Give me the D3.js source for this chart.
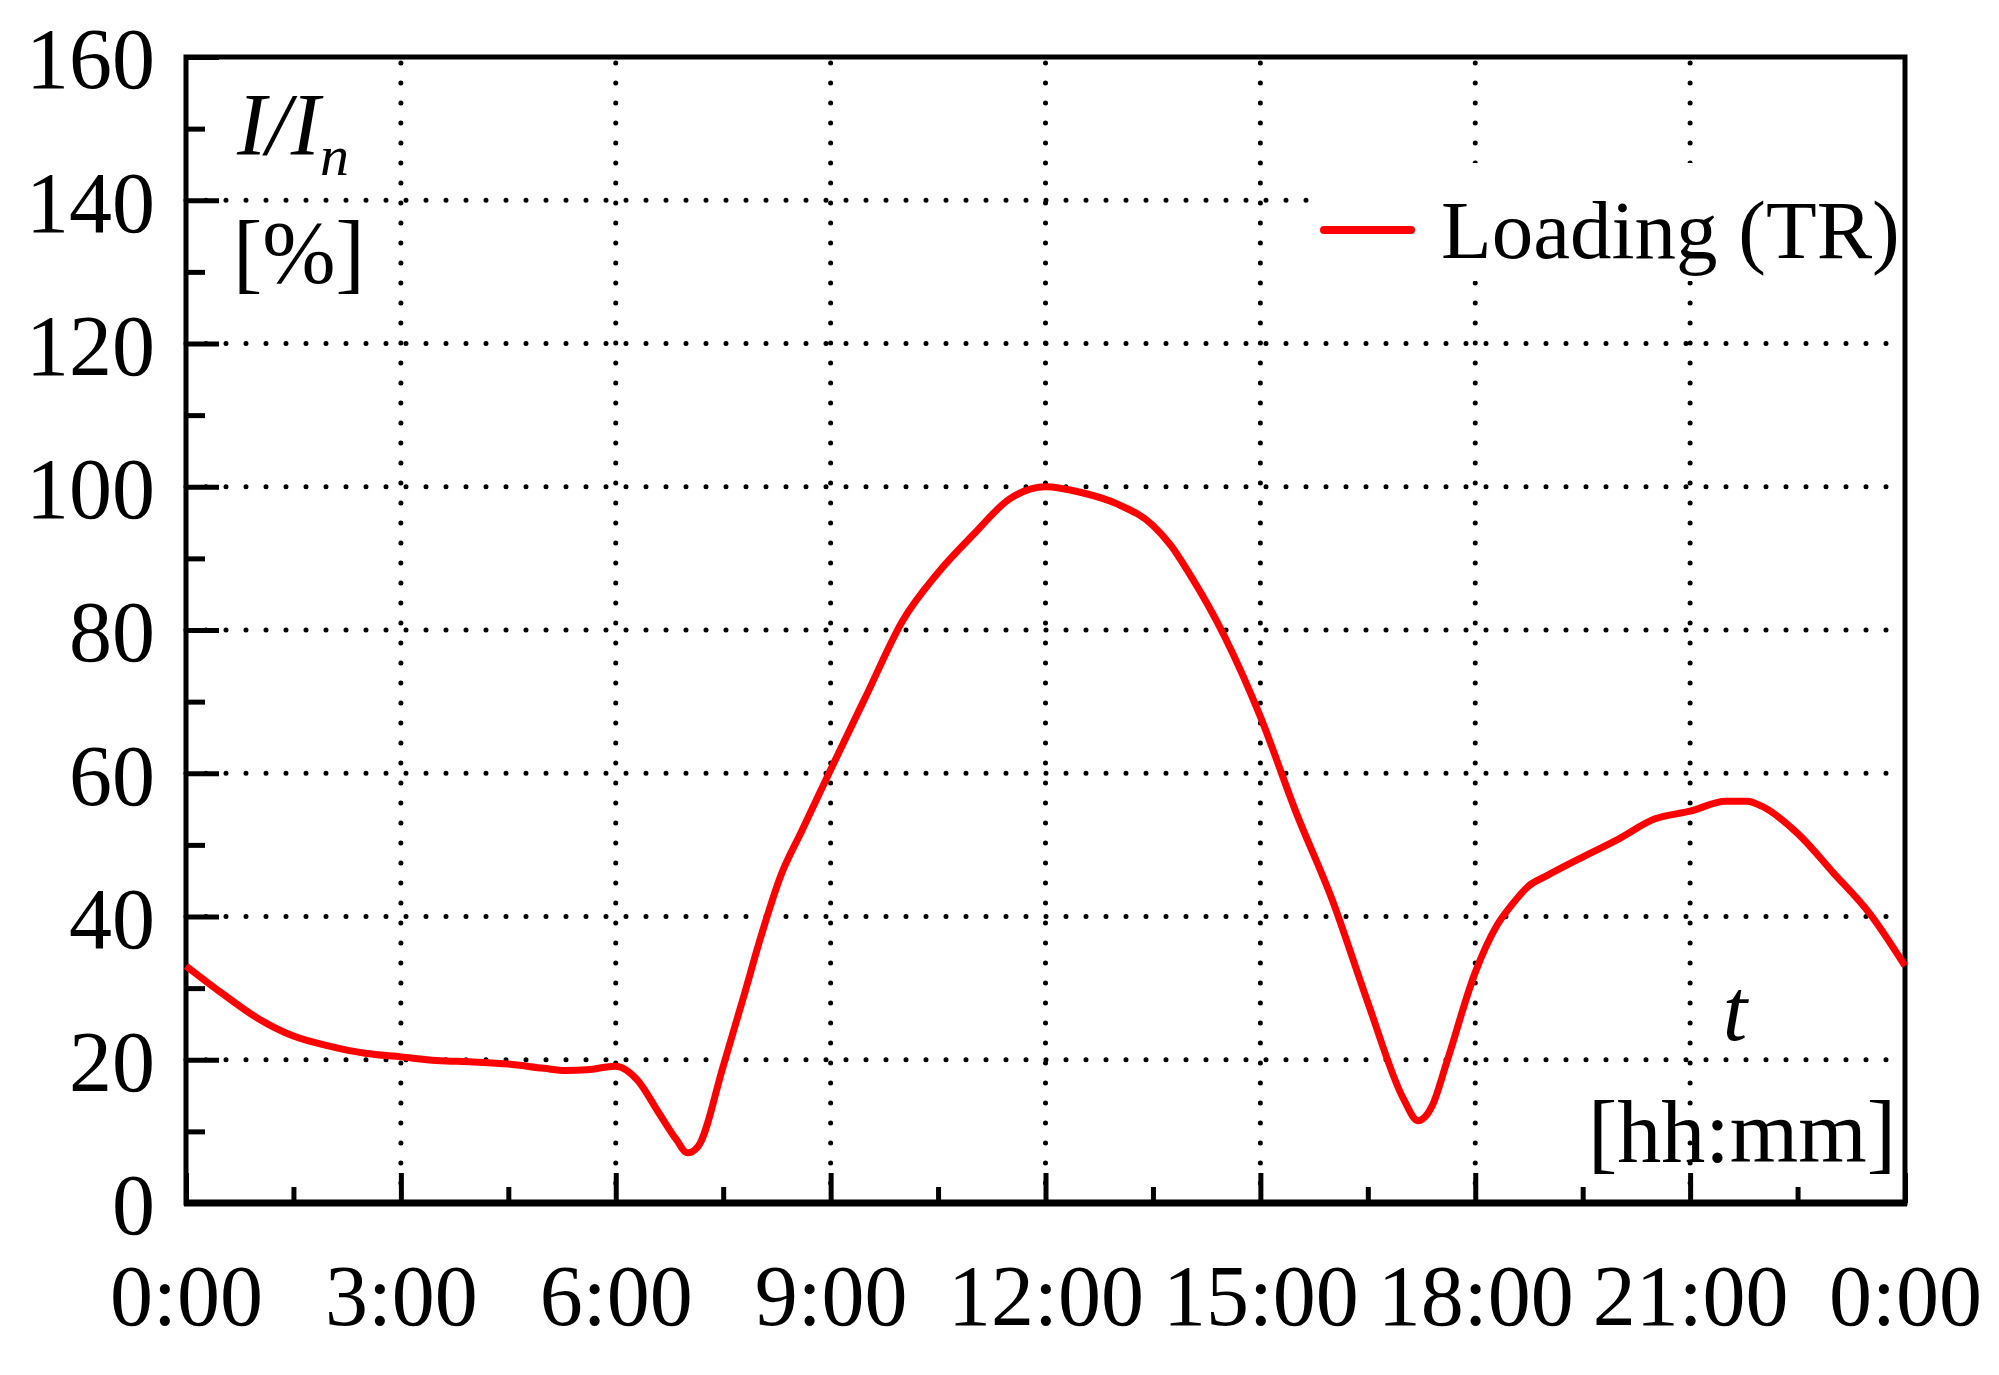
<!DOCTYPE html>
<html>
<head>
<meta charset="utf-8">
<script src="https://cdn.jsdelivr.net/npm/d3@7"></script>
<style>
  body { margin: 0; background: #fff; }
  svg text { font-family: "Palatino Linotype", "Book Antiqua", Palatino, "Liberation Serif", serif; fill: #000; }
</style>
</head>
<body>
<svg id="chart" width="1999" height="1375"></svg>
<script>
// loading curve of the transformer (hours -> % of rated current)
const hours = [0, 0.5, 1, 1.5, 2, 2.5, 3, 3.5, 4, 4.5, 5, 5.3, 5.6, 6, 6.3, 6.6, 6.85, 7, 7.15, 7.5, 7.8, 8, 8.3, 8.6,
  9, 9.5, 10, 10.5, 11, 11.5, 12, 12.5, 13, 13.5, 13.75, 14, 14.5, 15, 15.5, 16, 16.5, 17, 17.2, 17.4, 17.6,
  18, 18.3, 18.5, 18.75, 19, 19.5, 20, 20.5, 21, 21.5, 21.8, 22, 22.5, 23, 23.5, 24];
const loading = [33.1, 29.3, 25.8, 23.3, 21.9, 20.9, 20.4, 19.9, 19.7, 19.4, 18.8, 18.5, 18.6, 19.1, 17.2, 12.6, 8.8, 7.0, 7.9, 19.1, 29.3, 36.3, 45.6, 52.0,
  60.5, 70.9, 81.2, 88.0, 93.4, 98.3, 100, 99.2, 97.6, 94.6, 91.8, 88.0, 79.1, 67.9, 54.5, 42.4, 28.0, 14.5, 11.5, 13.6, 19.6,
  32.2, 38.7, 41.5, 44.3, 45.7, 48.3, 50.8, 53.6, 54.7, 56.1, 56.1, 55.4, 51.6, 46.1, 40.5, 33.1];

const xMajor = [0, 3, 6, 9, 12, 15, 18, 21, 24];
const xMinor = [1.5, 4.5, 7.5, 10.5, 13.5, 16.5, 19.5, 22.5];
const xTickLabels = ["0:00", "3:00", "6:00", "9:00", "12:00", "15:00", "18:00", "21:00", "0:00"];
const yMajor = [0, 20, 40, 60, 80, 100, 120, 140, 160];
const yMinor = [10, 30, 50, 70, 90, 110, 130, 150];
const seriesName = "Loading (TR)";

const plotLeft = 186, plotRight = 1905, plotTop = 57, plotBottom = 1203;
const fontSize = 86;

const svg = d3.select("#chart");
svg.append("rect").attr("width", 1999).attr("height", 1375).attr("fill", "#fff");

const x = d3.scaleLinear().domain([0, 24]).range([plotLeft, plotRight]);
const y = d3.scaleLinear().domain([0, 160]).range([plotBottom, plotTop]);

// dotted grid
const grid = svg.append("g").attr("stroke", "#000").attr("stroke-width", 5)
  .attr("stroke-linecap", "round").attr("stroke-dasharray", "0,20");
grid.selectAll(".gy").data(yMajor.slice(1, -1)).join("line")
  .attr("x1", plotLeft).attr("x2", plotRight).attr("y1", d => y(d)).attr("y2", d => y(d));
grid.selectAll(".gx").data(xMajor.slice(1, -1)).join("line")
  .attr("y1", plotBottom).attr("y2", plotTop).attr("x1", d => x(d)).attr("x2", d => x(d));

// legend background hides the grid behind it
svg.append("rect").attr("x", 1314).attr("y", 163).attr("width", plotRight - 1314).attr("height", 118).attr("fill", "#fff");

// axes with inward ticks
const xAx = svg.append("g").attr("transform", `translate(0,${plotBottom})`)
  .call(d3.axisBottom(x).tickValues(xMajor).tickSize(-30).tickPadding(122)
    .tickFormat((d, i) => xTickLabels[i]));
svg.append("g").attr("transform", `translate(0,${plotBottom})`)
  .call(d3.axisBottom(x).tickValues(xMinor).tickSize(-16).tickFormat(""));
const yAx = svg.append("g").attr("transform", `translate(${plotLeft},0)`)
  .call(d3.axisLeft(y).tickValues(yMajor).tickSize(-33).tickPadding(31));
svg.append("g").attr("transform", `translate(${plotLeft},0)`)
  .call(d3.axisLeft(y).tickValues(yMinor).tickSize(-19).tickFormat(""));

svg.selectAll(".domain").remove();
svg.selectAll(".tick line").attr("stroke", "#000").attr("stroke-width", 5);
xAx.selectAll("text").attr("font-size", fontSize).attr("dy", "0").attr("fill", "#000");
yAx.selectAll("text").attr("font-size", fontSize).attr("dy", "0.36em").attr("fill", "#000");

// frame
svg.append("rect").attr("x", plotLeft).attr("y", plotTop).attr("width", plotRight - plotLeft).attr("height", plotBottom - plotTop)
  .attr("fill", "none").attr("stroke", "#000").attr("stroke-width", 5);
svg.append("line").attr("x1", plotLeft - 2).attr("x2", plotRight + 2).attr("y1", plotBottom).attr("y2", plotBottom)
  .attr("stroke", "#000").attr("stroke-width", 7);

// the loading curve
const line = d3.line().x((d, i) => x(hours[i])).y(d => y(d)).curve(d3.curveMonotoneX);
svg.append("path").datum(loading).attr("d", line)
  .attr("fill", "none").attr("stroke", "#ff0000").attr("stroke-width", 7).attr("stroke-linejoin", "round");

// legend
svg.append("line").attr("x1", 1324).attr("x2", 1411).attr("y1", 230).attr("y2", 230)
  .attr("stroke", "#ff0000").attr("stroke-width", 8).attr("stroke-linecap", "round");
svg.append("text").attr("x", 1441).attr("y", 258).attr("font-size", 83).text(seriesName);

// axis titles
const yt = svg.append("text").attr("x", 237).attr("y", 154).attr("font-size", 88);
yt.append("tspan").attr("font-style", "italic").text("I/I");
yt.append("tspan").attr("font-style", "italic").attr("font-size", 58).attr("dy", 21).text("n");
svg.append("text").attr("x", 233).attr("y", 282).attr("font-size", 88).text("[%]");

svg.append("text").attr("x", 1735).attr("y", 1040).attr("font-size", 88)
  .attr("font-style", "italic").attr("text-anchor", "middle").text("t");
svg.append("text").attr("x", 1896).attr("y", 1162).attr("font-size", 88)
  .attr("text-anchor", "end").text("[hh:mm]");
</script>
</body>
</html>
